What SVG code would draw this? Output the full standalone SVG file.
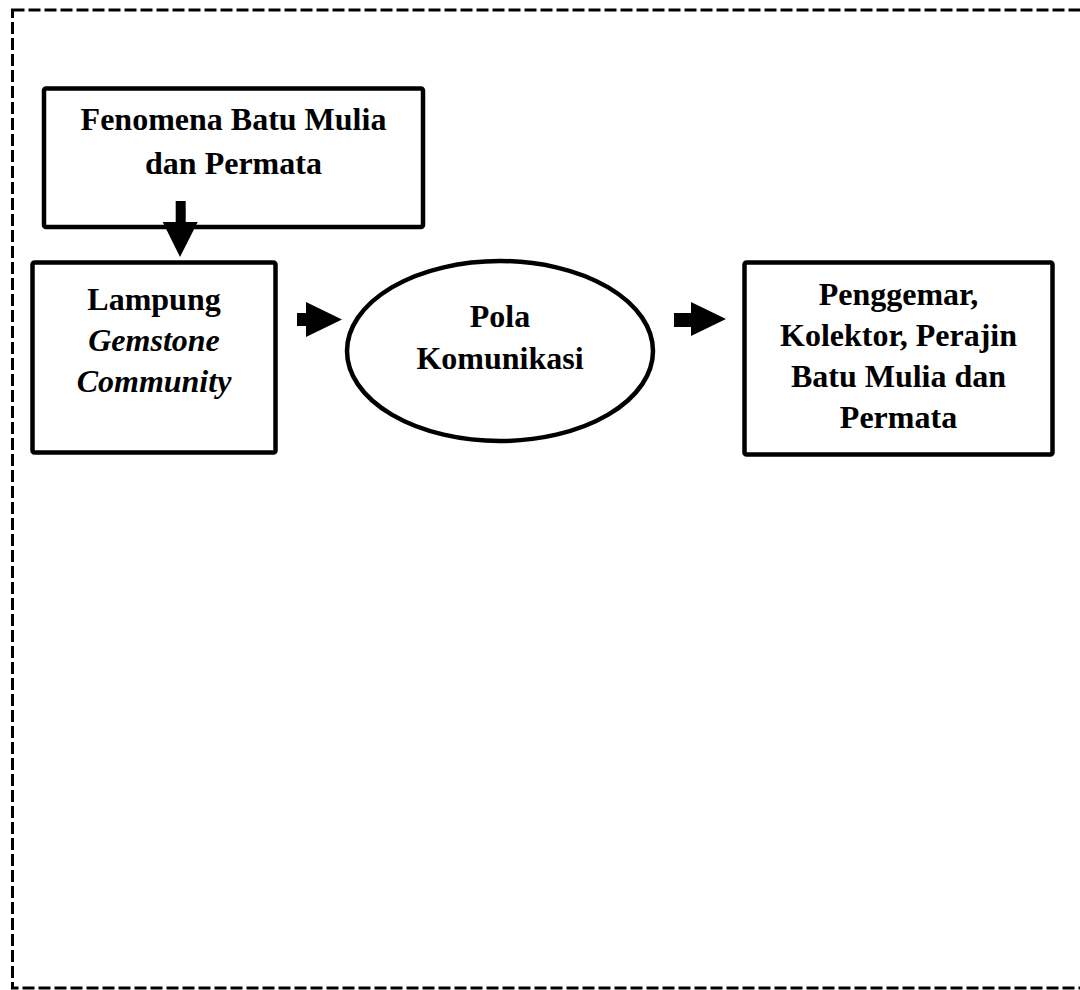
<svg xmlns="http://www.w3.org/2000/svg" width="1080" height="990" viewBox="0 0 1080 990">
<style>
.box{fill:#fff;stroke:#000;stroke-width:4.5}
.t{font-family:"Liberation Serif","Times New Roman",serif;font-size:32px;font-weight:bold;fill:#000;text-anchor:middle}
.i{font-style:italic}
.arr{fill:#000}
</style>
<rect width="1080" height="990" fill="#fff"/>
<rect id="frame" x="12.5" y="10" width="1090" height="978" fill="none" stroke="#000" stroke-width="3" stroke-dasharray="12 4"/>
<g id="fenomena">
<rect class="box" x="44" y="88.5" width="379" height="138.5" rx="2"/>
<text class="t" x="233.5" y="130">Fenomena Batu Mulia</text>
<text class="t" x="233.5" y="174">dan Permata</text>
</g>
<g id="lampung">
<rect class="box" x="32.5" y="262.5" width="243" height="190" rx="2"/>
<text class="t" x="154" y="310">Lampung</text>
<text class="t i" x="154" y="351">Gemstone</text>
<text class="t i" x="154" y="392">Community</text>
</g>
<g id="pola">
<ellipse cx="500" cy="351" rx="153" ry="90" fill="#fff" stroke="#000" stroke-width="4.5"/>
<text class="t" x="500" y="327">Pola</text>
<text class="t" x="500" y="369">Komunikasi</text>
</g>
<g id="penggemar">
<rect class="box" x="744.5" y="262.5" width="308" height="192" rx="2"/>
<text class="t" x="898.5" y="305">Penggemar,</text>
<text class="t" x="898.5" y="346">Kolektor, Perajin</text>
<text class="t" x="898.5" y="387">Batu Mulia dan</text>
<text class="t" x="898.5" y="428">Permata</text>
</g>
<g id="connectors">
<polygon class="arr" points="175.7,201 185.7,201 185.7,222 197.7,222 180,257 162.7,222 175.7,222"/>
<polygon class="arr" points="297,313 306,313 306,302 342,319.5 306,337 306,326 297,326"/>
<polygon class="arr" points="674,313 691,313 691,302 726,319 691,336 691,327 674,327"/>
</g>
</svg>
